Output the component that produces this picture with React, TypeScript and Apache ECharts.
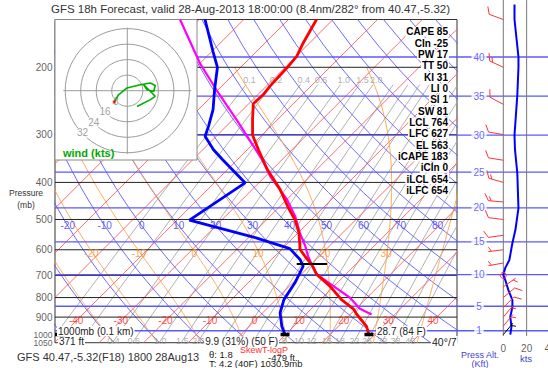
import React, { useEffect, useRef } from "react";
import * as echarts from "echarts";

// ---------------- texts ----------------
const TITLE = "GFS 18h Forecast, valid 28-Aug-2013 18:00:00 (8.4nm/282\u00b0 from 40.47,-5.32)";
const STAT_NAMES = ["CAPE", "CIn", "PW", "TT", "KI", "LI", "SI", "SW", "LCL", "LFC", "EL", "iCAPE", "iCIn", "iLCL", "iLFC"];
const STAT_VALUES = ["85", "-25", "17", "50", "31", "0", "1", "81", "764", "627", "563", "183", "0", "654", "654"];

// ---------------- reference lines ----------------
const ISOBARS = [200, 300, 400, 500, 600, 700, 800, 900];
const PRESSURE_LABELS = [200, 300, 400, 500, 600, 700, 800, 900, 1000, 1050];
const ALT_KFT = [1, 5, 10, 15, 20, 25, 30, 35, 40];
const ALT_P = [977, 843, 697, 572, 466, 376, 301, 238, 188];
const ISOTHERMS = [-110, -100, -90, -80, -70, -60, -50, -40, -30, -20, -10, 0, 10, 20, 30, 40, 50];
const ISOTHERM_LABELS = [-40, -30, -20, -10, 0, 10, 20, 30, 40];
const THETA = [-40, -30, -20, -10, 0, 10, 20, 30, 40, 50, 60, 70, 80, 90, 100, 110, 120, 130, 140, 150, 160];
const THETA_LABELS = [-20, -10, 0, 10, 20, 30, 40, 50, 60, 70, 80];
const THETA_W = [-30, -20, -10, 0, 10, 20, 30, 40];
const THETA_W_LABELS = [-20, -10, 0, 10, 20, 30];
const MIX = [0.1, 0.2, 0.4, 0.6, 1, 1.5, 2, 3, 4, 5, 6, 8, 10, 12, 15, 18, 22, 26, 32, 38, 46];
const MIX_TOP_LABELS = ["0.1", "0.2", "0.4", "0.6", "1.0", "1.5", "2.0"];
const MIX_BOTTOM_LABELS = ["0.4", "0.6", "1.0", "1.5", "2.0", "8", "10", "12", "15", "18", "22", "26", "32", "38", "46"];

// ---------------- sounding ----------------
const TEMP_P = [1000, 951, 886, 856, 810, 747, 696, 656, 624, 599, 542, 502, 466, 417, 370, 328, 301, 274, 249, 236, 224, 200, 187, 173, 150];
const TEMP_C = [28.7, 26.3, 21.5, 19.4, 14.7, 9.1, 3.5, 0.2, -3.2, -5.8, -9.8, -13.5, -17.8, -23.8, -31.1, -37.6, -42.1, -45.6, -49.0, -48.8, -49.2, -49.5, -49.9, -51.4, -53.7];
const DEW_P = [1000, 951, 877, 810, 732, 662, 636, 596, 558, 502, 401, 348, 328, 322, 303, 285, 258, 229, 200, 182, 150];
const DEW_C = [9.9, 7.3, 3.9, 1.8, 0.5, -1.4, -3.6, -8.3, -18.5, -37.2, -33.1, -43.5, -47.7, -48.8, -52.5, -54.0, -56.7, -60.8, -65.2, -69.7, -78.7];
const PARCEL_P = [886, 856, 801, 747, 696, 656, 624, 587, 542, 490, 443, 385, 348, 274, 229, 195, 150];
const PARCEL_C = [24.8, 20.9, 16.2, 9.9, 3.5, 0.2, -2.5, -5.4, -9.6, -14.4, -20.0, -29.0, -34.6, -49.2, -60.4, -70.1, -84.3];

// ---------------- winds ----------------
const WIND_P = [1000, 950, 900, 850, 800, 750, 700, 650, 600, 550, 500, 450, 400, 350, 300, 250, 200, 150];
const WIND_DIR = [40, 40, 40, 45, 50, 55, 0, 260, 263, 262, 277, 275, 286, 279, 280, 298, 295, 290];
const WIND_KT = [7, 7, 6, 8, 8, 4, 0, 3, 6, 8, 12, 13, 13, 11, 10, 12, 13, 10];
const SPEED_P = [1000, 955, 898, 847, 812, 764, 720, 698, 669, 638, 576, 532, 467, 378, 328, 301, 237, 200, 188, 150, 137];
const SPEED_KT = [6, 7, 6, 7.8, 7.8, 4.3, 1.7, 0, 1.7, 5.2, 7.8, 10.4, 13, 12, 10, 9.6, 12, 13, 13, 9.6, 9.6];
const SPEED_TICKS = ["0", "20", "40"];

// ---------------- hodograph ----------------
const HODO_RINGS = [8, 16, 24, 32];
const HODO_U = [-6.7, -4.5, -0.2, 6.7, 11.9, 14.4, 13.6, 10.2, 8.4, 12.7, 14.4, 11.9, 5.0];
const HODO_V = [-5.8, -2.1, 1.4, 3.1, 4.0, 2.7, -0.4, 0.5, 3.1, -1.2, -2.9, -4.6, -8.1];

// ---------------- layout ----------------
const FONT = '"Liberation Sans", Arial, sans-serif';
const G_LEFT = 55, G_RIGHT = 457, G_TOP = 19.5;
const PX_PER_LN = 166.1;
const PX_PER_DEG = 4.46;
const P_TOP = 150, P_BOT = 1050;
const G_H = PX_PER_LN * Math.log(P_BOT / P_TOP);
const X0_PX = 240.9;
const XMIN = (G_LEFT - X0_PX) / PX_PER_DEG;
const XMAX = (G_RIGHT - X0_PX) / PX_PER_DEG;
const SKEW = PX_PER_LN / PX_PER_DEG;
const Y1000 = G_TOP + PX_PER_LN * Math.log(1000 / P_TOP);
const pAtY = (y: number) => 1000 * Math.exp((y - Y1000) / PX_PER_LN);
const KT_PX = 23.33 / 20;
const KT0_PX = 503.3;
const HC_X = 127.3, HC_Y = 90.7, H_PX = 1.94;

const LN = Math.log;
const sx = (T: number, p: number) => T + SKEW * LN(1000 / p);

function esat(Tc: number) {
  return 6.112 * Math.exp((17.67 * Tc) / (Tc + 243.5));
}
function moistRate(TK: number, p: number) {
  const es = esat(TK - 273.15);
  const rs = (0.622 * es) / (p - es);
  const Rd = 287.04, cp = 1005.7, L = 2.501e6;
  return ((Rd * TK + L * rs) / p) / (cp + (L * L * rs * 0.622) / (Rd * TK * TK));
}
function moistCurve(tw: number): [number, number][] {
  const up: [number, number][] = [];
  let T = tw + 273.15;
  for (let p = 1000; p > 200; p -= 5) {
    up.push([p, T - 273.15]);
    const h = -5;
    const k1 = moistRate(T, p);
    const k2 = moistRate(T + h * k1, p + h);
    T += (h * (k1 + k2)) / 2;
  }
  up.push([200, T - 273.15]);
  const down: [number, number][] = [];
  let T2 = tw + 273.15;
  for (let p = 1000; p < 1050; p += 5) {
    const h = 5;
    const k1 = moistRate(T2, p);
    const k2 = moistRate(T2 + h * k1, p + h);
    T2 += (h * (k1 + k2)) / 2;
    down.push([p + 5, T2 - 273.15]);
  }
  return [...down.reverse(), ...up];
}
function tdMix(w: number, p: number) {
  const e = (w * p) / (622 + w);
  const l = Math.log(e / 6.112);
  return (243.5 * l) / (17.67 - l);
}
const dryT = (th: number, p: number) => (th + 273.15) * Math.pow(p / 1000, 0.2857) - 273.15;

function buildOption() {
  const series: any[] = [];
  const samp: number[] = [];
  for (let p = P_BOT; p >= P_TOP - 1; p -= 25) samp.push(p);

  const line = (data: any[], color: string, width: number, extra: any = {}) => ({
    type: "line",
    data,
    symbol: "none",
    showSymbol: false,
    silent: true,
    xAxisIndex: 0,
    yAxisIndex: 0,
    z: 2,
    lineStyle: { color, width },
    ...extra,
  });
  const labels = (items: any[], label: any, extra: any = {}) => ({
    type: "scatter",
    data: items,
    symbolSize: 1,
    itemStyle: { color: "rgba(0,0,0,0)" },
    silent: true,
    clip: false,
    xAxisIndex: 0,
    yAxisIndex: 0,
    z: 4,
    label: { show: true, formatter: "{b}", position: "inside", fontFamily: FONT, fontSize: 10, ...label },
    ...extra,
  });

  // mixing ratio
  const mixP = [1050, 1000, 900, 800, 700, 600, 500, 400, 330, 280, 250, 222];
  MIX.forEach((w) => series.push(line(mixP.map((p) => [sx(tdMix(w, p), p), LN(p)]), "#a8a8a8", 0.9)));
  // isotherms
  ISOTHERMS.forEach((T) =>
    series.push(line([[sx(T, P_BOT), LN(P_BOT)], [sx(T, P_TOP), LN(P_TOP)]], "#ff5c5c", 0.9))
  );
  // dry adiabats
  THETA.forEach((th) => series.push(line(samp.map((p) => [sx(dryT(th, p), p), LN(p)]), "#5c5cff", 0.9)));
  // moist adiabats
  const moist: Record<number, [number, number][]> = {};
  THETA_W.forEach((tw) => {
    moist[tw] = moistCurve(tw);
    series.push(line(moist[tw].map(([p, T]) => [sx(T, p), LN(p)]), "#ffa040", 0.9));
  });
  // isobars
  ISOBARS.forEach((p) => series.push(line([[XMIN, LN(p)], [XMAX, LN(p)]], "#222", 1, { z: 3 })));
  // altitude lines
  ALT_P.forEach((p) => {
    series.push(line([[XMIN, LN(p)], [XMAX, LN(p)]], "#5a5aff", 1.3, { z: 3 }));
    series.push(
      line([[-60, LN(p)], [60, LN(p)]], "#5a5aff", 1.3, { z: 3, xAxisIndex: 1, yAxisIndex: 1 })
    );
  });

  // labels on reference lines
  series.push(
    labels(
      ISOTHERM_LABELS.map((T) => ({ name: String(T), value: [sx(T, 921), LN(921)] })),
      { color: "#ff2020" }
    )
  );
  series.push(
    labels(
      THETA_LABELS.map((th) => ({ name: String(th), value: [sx(dryT(th, 519), 519), LN(519)] })),
      { color: "#3030ff", offset: [0, 0] }
    )
  );
  series.push(
    labels(
      THETA_W_LABELS.map((tw) => {
        const pt = moist[tw].reduce((a, b) => (Math.abs(b[0] - 610) < Math.abs(a[0] - 610) ? b : a));
        return { name: String(tw), value: [sx(pt[1], pt[0]), LN(pt[0])] };
      }),
      { color: "#ff8c1a", offset: [-1, 1] }
    )
  );
  series.push(
    labels(
      MIX_TOP_LABELS.map((s) => ({ name: s, value: [sx(tdMix(parseFloat(s), 216), 216), LN(216)] })),
      { color: "#999", fontSize: 9 }
    )
  );
  series.push(
    labels(
      MIX_BOTTOM_LABELS.map((s) => ({ name: s, value: [sx(tdMix(parseFloat(s), 1039), 1039), LN(1039)] })),
      { color: "#999", fontSize: 9 }
    )
  );
  // pressure labels
  series.push(
    labels(
      PRESSURE_LABELS.map((p) => ({
        name: String(p),
        value: [XMIN, LN(p)],
        label: p >= 1000 ? { fontSize: 8.5 } : {},
      })),
      { color: "#333", position: "left", distance: 2 }
    )
  );
  // altitude labels
  series.push(
    labels(
      ALT_KFT.map((k, i) => ({ name: String(k), value: [(479 - KT0_PX) / KT_PX, LN(ALT_P[i])] })),
      { color: "#4040ff", backgroundColor: "#fff", padding: [0, 2] },
      { xAxisIndex: 1, yAxisIndex: 1, z: 6 }
    )
  );

  // sounding
  series.push(line(PARCEL_C.map((T, i) => [sx(T, PARCEL_P[i]), LN(PARCEL_P[i])]), "#ff00ff", 2.2, { z: 20 }));
  series.push(line(DEW_C.map((T, i) => [sx(T, DEW_P[i]), LN(DEW_P[i])]), "#0000ff", 2.8, { z: 21 }));
  series.push(line(TEMP_C.map((T, i) => [sx(T, TEMP_P[i]), LN(TEMP_P[i])]), "#ff0000", 2.8, { z: 22 }));
  // markers
  const mark = (a: number, b: number, p: number, w: number) =>
    line([[a, LN(p)], [b, LN(p)]], "#000", w, { z: 23 });
  series.push(mark(sx(TEMP_C[0] - 1, 1000), sx(TEMP_C[0] + 1, 1000), 1000, 3.5));
  series.push(mark(sx(DEW_C[0] - 1, 1000), sx(DEW_C[0] + 1, 1000), 1000, 3.5));
  series.push(mark(sx(-3.3, 654), sx(3.5, 654), 654, 2));
  series.push(mark(XMIN, XMIN + 1.8, 1000, 3.5));

  // right panel: speed profile, grid lines, barbs
  SPEED_TICKS.forEach((t) =>
    series.push(
      line([[parseFloat(t), LN(pAtY(0))], [parseFloat(t), LN(pAtY(336))]], "#777", 1, {
        xAxisIndex: 1,
        yAxisIndex: 1,
        z: 3,
      })
    )
  );
  series.push(
    line(SPEED_KT.map((k, i) => [k, LN(SPEED_P[i])]), "#0000ff", 2, { xAxisIndex: 1, yAxisIndex: 1, z: 8 })
  );
  series.push({
    type: "custom",
    xAxisIndex: 1,
    yAxisIndex: 1,
    z: 9,
    silent: true,
    data: WIND_P.map((p, i) => [0, LN(p), WIND_DIR[i], WIND_KT[i], i === 0 ? 1 : 0]),
    renderItem: (params: any, api: any) => {
      const [bx, by] = api.coord([api.value(0), api.value(1)]);
      const dir = api.value(2);
      const spd = api.value(3);
      const color = api.value(4) ? "#000" : "#ff3333";
      if (spd < 2.5) {
        return { type: "circle", shape: { cx: bx, cy: by, r: 3 }, style: { fill: "none", stroke: color, lineWidth: 1 } };
      }
      const rad = (dir * Math.PI) / 180;
      const dx = Math.sin(rad), dy = -Math.cos(rad);
      const L = 15;
      const tx = bx + dx * L, ty = by + dy * L;
      const px = -dy, py = dx;
      const fx = 0.5 * dx + 0.866 * px, fy = 0.5 * dy + 0.866 * py;
      const children: any[] = [
        { type: "line", shape: { x1: bx, y1: by, x2: tx, y2: ty }, style: { stroke: color, lineWidth: 1 } },
      ];
      let s = Math.round(spd / 5) * 5;
      let k = 0;
      while (s >= 10) {
        const ox = tx - dx * 3 * k, oy = ty - dy * 3 * k;
        children.push({ type: "line", shape: { x1: ox, y1: oy, x2: ox + fx * 8, y2: oy + fy * 8 }, style: { stroke: color, lineWidth: 1 } });
        s -= 10;
        k++;
      }
      if (s >= 5) {
        const ox = tx - dx * 3 * (k === 0 ? 1 : k), oy = ty - dy * 3 * (k === 0 ? 1 : k);
        children.push({ type: "line", shape: { x1: ox, y1: oy, x2: ox + fx * 5, y2: oy + fy * 5 }, style: { stroke: color, lineWidth: 1 } });
      }
      return { type: "group", children };
    },
  });
  series.push(
    labels(
      SPEED_TICKS.map((t) => ({ name: t, value: [parseFloat(t), LN(pAtY(348))] })),
      { color: "#333" },
      { xAxisIndex: 1, yAxisIndex: 1 }
    )
  );

  // hodograph
  const hl = (data: any[], color: string, width: number, z = 11) =>
    line(data, color, width, { xAxisIndex: 2, yAxisIndex: 2, z });
  HODO_RINGS.forEach((r) => {
    const pts: number[][] = [];
    for (let a = 0; a <= 360; a += 5) pts.push([r * Math.cos((a * Math.PI) / 180), r * Math.sin((a * Math.PI) / 180)]);
    series.push(hl(pts, "#9a9a9a", 1));
  });
  series.push(hl([[-33, 0], [33, 0]], "#9a9a9a", 1));
  series.push(hl([[0, -32.5], [0, 32.5]], "#9a9a9a", 1));
  series.push(
    labels(
      HODO_RINGS.map((r) => ({ name: String(r), value: [-0.72 * r, -0.68 * r] })),
      { color: "#888", backgroundColor: "#fff" },
      { xAxisIndex: 2, yAxisIndex: 2, z: 12 }
    )
  );
  series.push(hl(HODO_U.map((u, i) => [u, HODO_V[i]]), "#00b000", 1.6, 13));
  series.push({
    type: "scatter",
    xAxisIndex: 2,
    yAxisIndex: 2,
    z: 14,
    silent: true,
    symbol: "rect",
    symbolSize: 3,
    itemStyle: { color: "#ff0000" },
    data: [[HODO_U[0], HODO_V[0]]],
  });

  const txt = (text: string, x: number, y: number, o: any = {}) => ({
    type: "text",
    x,
    y,
    z: o.z || 40,
    silent: true,
    style: {
      text,
      fill: o.fill || "#333",
      font: `${o.weight || "normal"} ${o.size || 10}px ${FONT}`,
      textAlign: o.align || "left",
      textVerticalAlign: "middle",
      ...(o.lh ? { lineHeight: o.lh } : {}),
      ...(o.bg ? { backgroundColor: o.bg, padding: o.pad || [0, 1] } : {}),
    },
  });

  const graphics: any[] = [
    txt(TITLE, 250.5, 9, { size: 11.5, align: "center" }),
    txt("Pressure", 26, 193, { size: 8.5, align: "center" }),
    txt("(mb)", 26, 205, { size: 8.5, align: "center" }),
    txt("wind (kts)", 63, 153, { size: 11, weight: "bold", fill: "#00a800" }),
    txt("1000mb (0.1 km)", 57, 331, { bg: "#fff", fill: "#222" }),
    txt("371 ft", 58, 341.5, { bg: "#fff", fill: "#222" }),
    txt("9.9 (31%) (50 F)", 279, 341.5, { bg: "#fff", align: "right", fill: "#222" }),
    txt("28.7 (84 F)", 376, 331, { bg: "#fff", fill: "#222" }),
    txt("40\u00b0/7", 431, 341.5, { bg: "#fff", fill: "#222", size: 10.5 }),
    txt("GFS 40.47,-5.32(F18) 1800 28Aug13", 17, 357, { size: 11 }),
    txt("SkewT-logP", 264, 349.5, { fill: "#ff3030", align: "center", size: 9, lh: 9, z: 39 }),
    txt("\u03b8: 1.8", 209, 354.5, { fill: "#222", size: 9.5, lh: 9.5 }),
    txt("-479 ft.", 268, 357.5, { fill: "#222", size: 9.5, lh: 9 }),
    txt("T: 4.2 (40F) 1030.9mb", 209, 363.8, { fill: "#222", size: 9.5, lh: 8.5 }),
    txt("Press Alt.", 480, 355, { fill: "#4444cc", align: "center", size: 9, lh: 8.5 }),
    txt("(Kft)", 480, 364, { fill: "#4444cc", align: "center", size: 9, lh: 8.5 }),
    txt("kts", 526, 358, { fill: "#4444cc", align: "center", size: 9.5 }),
  ];
  STAT_NAMES.forEach((n, i) =>
    graphics.push(
      txt(`${n} ${STAT_VALUES[i]}`, 449, 31.7 + i * 11.35, { weight: "bold", fill: "#000", bg: "#fff", align: "right" })
    )
  );

  return {
    animation: false,
    backgroundColor: "#fff",
    grid: [
      { left: G_LEFT, top: G_TOP, width: G_RIGHT - G_LEFT, height: G_H, show: true, borderColor: "#333", borderWidth: 1, backgroundColor: "transparent", z: 0 },
      { left: 457, top: 0, width: 91, height: 368, show: false },
      { left: G_LEFT, top: G_TOP, width: 142, height: 140.5, show: true, borderColor: "#8a8a8a", borderWidth: 1, backgroundColor: "#fff", z: 10 },
    ],
    xAxis: [
      { type: "value", gridIndex: 0, min: XMIN, max: XMAX, show: false },
      { type: "value", gridIndex: 1, min: (457 - KT0_PX) / KT_PX, max: (548 - KT0_PX) / KT_PX, show: false },
      { type: "value", gridIndex: 2, min: (G_LEFT - HC_X) / H_PX, max: (G_LEFT + 142 - HC_X) / H_PX, show: false },
    ],
    yAxis: [
      { type: "value", gridIndex: 0, min: LN(P_TOP), max: LN(P_BOT), inverse: true, show: false },
      { type: "value", gridIndex: 1, min: LN(pAtY(0)), max: LN(pAtY(368)), inverse: true, show: false },
      { type: "value", gridIndex: 2, min: -(G_TOP + 140.5 - HC_Y) / H_PX, max: (HC_Y - G_TOP) / H_PX, show: false },
    ],
    series,
    graphic: { elements: graphics },
  };
}

export default function App() {
  const ref = useRef<HTMLDivElement>(null);
  useEffect(() => {
    const chart = echarts.init(ref.current!, null, { renderer: "svg" });
    chart.setOption(buildOption() as any);
    return () => chart.dispose();
  }, []);
  return <div ref={ref} style={{ width: 548, height: 368, position: "absolute", left: 0, top: 0 }} />;
}
